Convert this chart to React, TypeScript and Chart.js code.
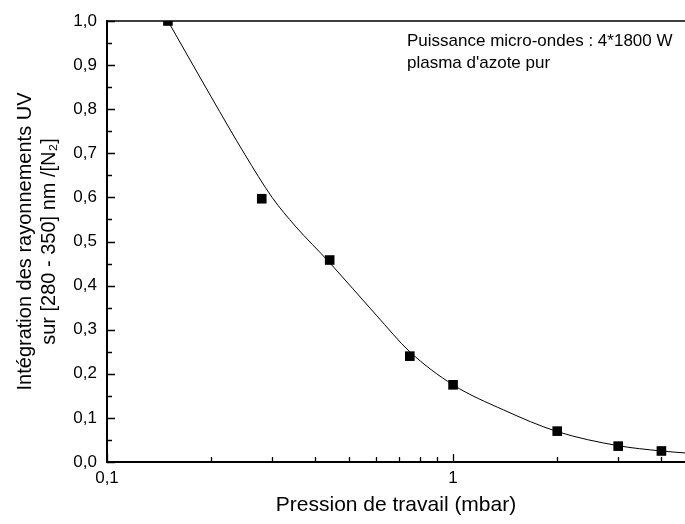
import React, { useEffect, useRef } from "react";
import { Chart, registerables } from "chart.js";

Chart.register(...registerables);

// Measured points (pressure in mbar, normalised UV integral)
const pressure = [0.15, 0.28, 0.44, 0.75, 1.0, 2.0, 3.0, 4.0];
const uvIntegral = [1.0, 0.597, 0.458, 0.24, 0.175, 0.07, 0.036, 0.025];

// Fitted curve
const fitX = [0.15, 0.2, 0.25, 0.3, 0.35, 0.44, 0.6, 0.75, 1.0, 1.4, 2.0, 3.0, 4.0, 4.68];
const fitY = [1.0, 0.828, 0.698, 0.6, 0.535, 0.452, 0.333, 0.25, 0.175, 0.118, 0.069, 0.037, 0.025, 0.0205];

const xTickValues = [0.1, 0.2, 0.3, 0.4, 0.5, 0.6, 0.7, 0.8, 0.9, 1, 2, 3, 4];
const xTickLabels: Record<string, string> = { "0.1": "0,1", "1": "1" };
const xMin = 0.1;
const xMax = 4.68;
const yMin = 0;
const yMax = 1;
const yStep = 0.1;

const annotationLines = ["Puissance micro-ondes : 4*1800 W", "plasma d'azote pur"];
const xTitle = "Pression de travail (mbar)";
const yTitle = ["Intégration des rayonnements UV", "sur [280 - 350] nm /[N₂]"];

const FONT = "'Liberation Sans', Arial, Helvetica, sans-serif";

const framePlugin = {
  id: "frame",
  afterDraw(chart: any) {
    const { ctx, chartArea, scales } = chart;
    const xs = scales.x;
    const ys = scales.y;
    const { left, right, top, bottom } = chartArea;
    ctx.save();
    ctx.strokeStyle = "#000";
    // axis lines
    ctx.lineWidth = 2;
    ctx.beginPath();
    ctx.moveTo(left, top - 1);
    ctx.lineTo(left, bottom + 1);
    ctx.moveTo(left - 1, bottom);
    ctx.lineTo(right, bottom);
    ctx.stroke();
    ctx.lineWidth = 1.6;
    ctx.beginPath();
    ctx.moveTo(left, top);
    ctx.lineTo(right, top);
    ctx.stroke();
    // y ticks (inward)
    ctx.lineWidth = 1.3;
    ctx.beginPath();
    for (let i = 0; i <= Math.round((yMax - yMin) / yStep); i++) {
      const v = yMin + i * yStep;
      const py = Math.round(ys.getPixelForValue(v)) + 0.5;
      ctx.moveTo(left, py);
      ctx.lineTo(left + 8, py);
      if (v + yStep / 2 < yMax) {
        const pm = Math.round(ys.getPixelForValue(v + yStep / 2)) + 0.5;
        ctx.moveTo(left, pm);
        ctx.lineTo(left + 5, pm);
      }
    }
    // x ticks (inward)
    xTickValues.forEach((v) => {
      const px = Math.round(xs.getPixelForValue(v)) + 0.5;
      const major = Math.abs(Math.log10(v) - Math.round(Math.log10(v))) < 1e-9;
      ctx.moveTo(px, bottom);
      ctx.lineTo(px, bottom - (major ? 8 : 5));
    });
    ctx.stroke();
    // annotation
    ctx.fillStyle = "#000";
    ctx.font = `17px ${FONT}`;
    ctx.textAlign = "left";
    ctx.textBaseline = "middle";
    annotationLines.forEach((t, i) => {
      ctx.fillText(t, left + 300, top + 20 + i * 22);
    });
    ctx.restore();
  },
};

export default function App() {
  const ref = useRef<HTMLCanvasElement | null>(null);
  useEffect(() => {
    if (!ref.current) return;
    const chart = new Chart(ref.current, {
      type: "scatter",
      data: {
        datasets: [
          {
            type: "scatter",
            data: pressure.map((x, i) => ({ x, y: uvIntegral[i] })),
            backgroundColor: "#000",
            borderColor: "#000",
            borderWidth: 0,
            pointStyle: "rect",
            pointRadius: 6.8,
            pointHoverRadius: 6.8,
            clip: 0,
            order: 0,
          } as any,
          {
            type: "line",
            data: fitX.map((x, i) => ({ x, y: fitY[i] })),
            borderColor: "#000",
            borderWidth: 1,
            pointRadius: 0,
            fill: false,
            showLine: true,
            cubicInterpolationMode: "monotone",
            clip: 0,
            order: 1,
          } as any,
        ],
      },
      options: {
        animation: false,
        responsive: false,
        events: [],
        layout: { autoPadding: false, padding: { top: 21, right: 0, left: 0, bottom: 0 } },
        plugins: { legend: { display: false }, tooltip: { enabled: false } },
        scales: {
          x: {
            type: "logarithmic",
            min: xMin,
            max: xMax,
            grid: { display: false, drawTicks: false },
            border: { display: false },
            afterBuildTicks: (scale: any) => {
              scale.ticks = xTickValues.map((v) => ({ value: v }));
            },
            afterFit: (scale: any) => {
              scale.height = 62;
              scale.paddingRight = 0;
            },
            ticks: {
              autoSkip: false,
              maxRotation: 0,
              padding: 6,
              color: "#000",
              font: { family: FONT, size: 17 },
              callback: (v: any) => xTickLabels[String(Number(v))] ?? "",
            },
            title: {
              display: true,
              text: xTitle,
              color: "#000",
              font: { family: FONT, size: 21 },
              padding: { top: 0, bottom: 6 },
            },
          },
          y: {
            min: yMin,
            max: yMax,
            grid: { display: false, drawTicks: false },
            border: { display: false },
            afterFit: (scale: any) => {
              scale.width = 107;
            },
            ticks: {
              stepSize: yStep,
              padding: 10,
              color: "#000",
              font: { family: FONT, size: 17 },
              callback: (v: any) => Number(v).toFixed(1).replace(".", ","),
            },
            title: {
              display: true,
              text: yTitle,
              color: "#000",
              font: { family: FONT, size: 20 },
              padding: { top: 13, bottom: 0 },
            },
          },
        },
      },
      plugins: [framePlugin],
    } as any);
    return () => chart.destroy();
  }, []);
  return (
    <div style={{ position: "fixed", left: 0, top: 0, width: 685, height: 524, background: "#fff" }}>
      <canvas ref={ref} width={685} height={524} style={{ display: "block" }} />
    </div>
  );
}
